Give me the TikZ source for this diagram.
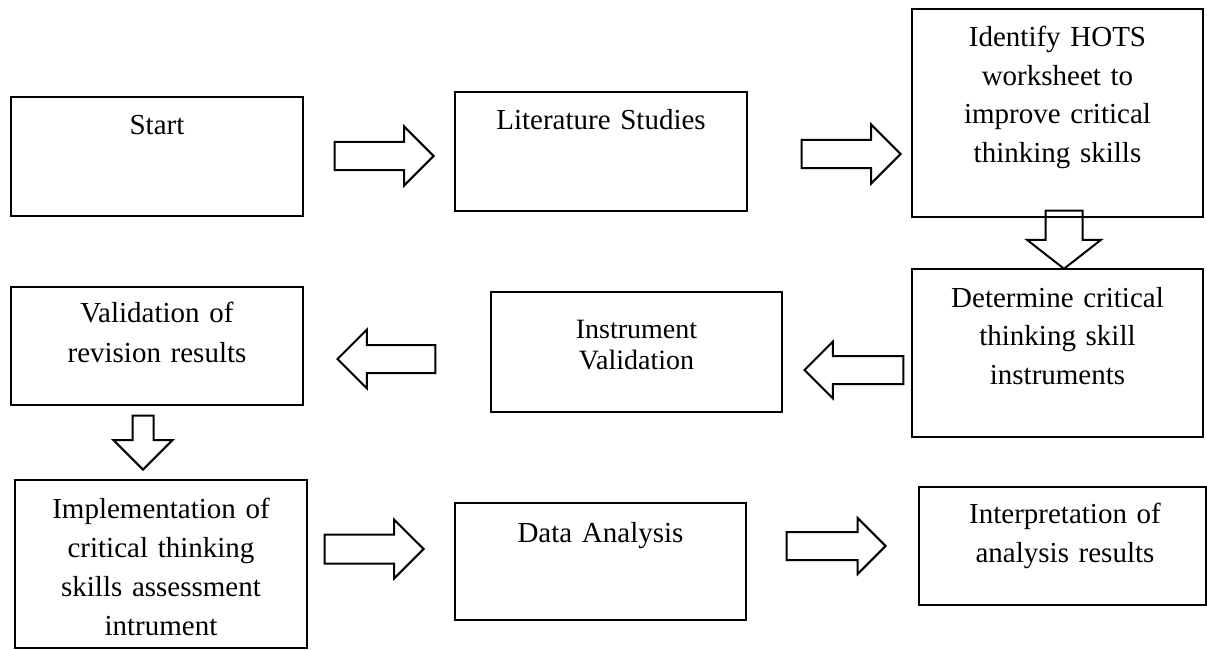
\documentclass[tikz,border=0pt]{standalone}
\usepackage{fontspec}
\setmainfont{Liberation Serif}
\usetikzlibrary{shapes.arrows}
\begin{document}
\begin{tikzpicture}[x=1pt,y=-1pt,
  box/.style={draw, line width=2pt, rectangle, inner sep=0pt},
  lbl/.style={anchor=base, inner sep=0pt, text width=285pt, align=center,
    font=\fontsize{29}{38.5}\selectfont},
  blk/.style={single arrow, draw, line width=2pt, inner xsep=0pt, inner ysep=13pt,
    anchor=tip, single arrow tip angle=90, minimum height=99pt,
    single arrow head extend=15.5pt}
]
\useasboundingbox (0,0) rectangle (1207,650);

% boxes
\node[box, minimum width=292pt, minimum height=119pt] (b1) at (157,156.5) {};
\node[box, minimum width=292pt, minimum height=119pt] (b2) at (601,151.5) {};
\node[box, minimum width=291pt, minimum height=208pt] (b3) at (1057.5,113) {};
\node[box, minimum width=291pt, minimum height=168pt] (b4) at (1057.5,353) {};
\node[box, minimum width=291pt, minimum height=120pt] (b5) at (636.5,352) {};
\node[box, minimum width=292pt, minimum height=118pt] (b6) at (157,346) {};
\node[box, minimum width=292pt, minimum height=168pt] (b7) at (161,564) {};
\node[box, minimum width=291pt, minimum height=117pt] (b8) at (600.5,561.5) {};
\node[box, minimum width=287pt, minimum height=118pt] (b9) at (1062.5,546) {};

% texts
\node[lbl] (t1) at (157,135) {Start};
\node[lbl] (t2) at (601,130) {Literature Studies};
\node[lbl] (t3) at (1057.5,47) {Identify HOTS\\worksheet to\\improve critical\\thinking skills};
\node[lbl] (t4) at (1057.5,307) {Determine critical\\thinking skill\\instruments};
\node[lbl, font=\fontsize{28}{31}\selectfont] (t5) at (636.5,338) {Instrument\\Validation};
\node[lbl, font=\fontsize{29}{40}\selectfont] (t6) at (157,322) {Validation of\\revision results};
\node[lbl, font=\fontsize{29}{39}\selectfont] (t7) at (161,518) {Implementation of\\critical thinking\\skills assessment\\intrument};
\node[lbl] (t8) at (600.5,542) {Data Analysis};
\node[lbl, font=\fontsize{29}{39}\selectfont] (t9) at (1065,523) {Interpretation of\\analysis results};

% block arrows
\node[blk] (a1) at (435,156) {};
\node[blk] (a2) at (902,154) {};
\node[blk, rotate=-90, minimum height=58pt, inner ysep=17.5pt,
  single arrow head extend=18.5pt, single arrow tip angle=104] (a3) at (1064,270) {};
\node[blk, rotate=180, single arrow head extend=14.5pt] (a4) at (803,370) {};
\node[blk, rotate=180, minimum height=98pt] (a5) at (336,359) {};
\node[blk, rotate=-90, minimum height=54pt, inner ysep=9.5pt,
  single arrow head extend=19pt] (a6) at (143,471) {};
\node[blk, inner ysep=13.5pt, single arrow head extend=15pt] (a7) at (425,549) {};
\node[blk, single arrow head extend=14pt] (a8) at (887,546) {};
\end{tikzpicture}
\end{document}
